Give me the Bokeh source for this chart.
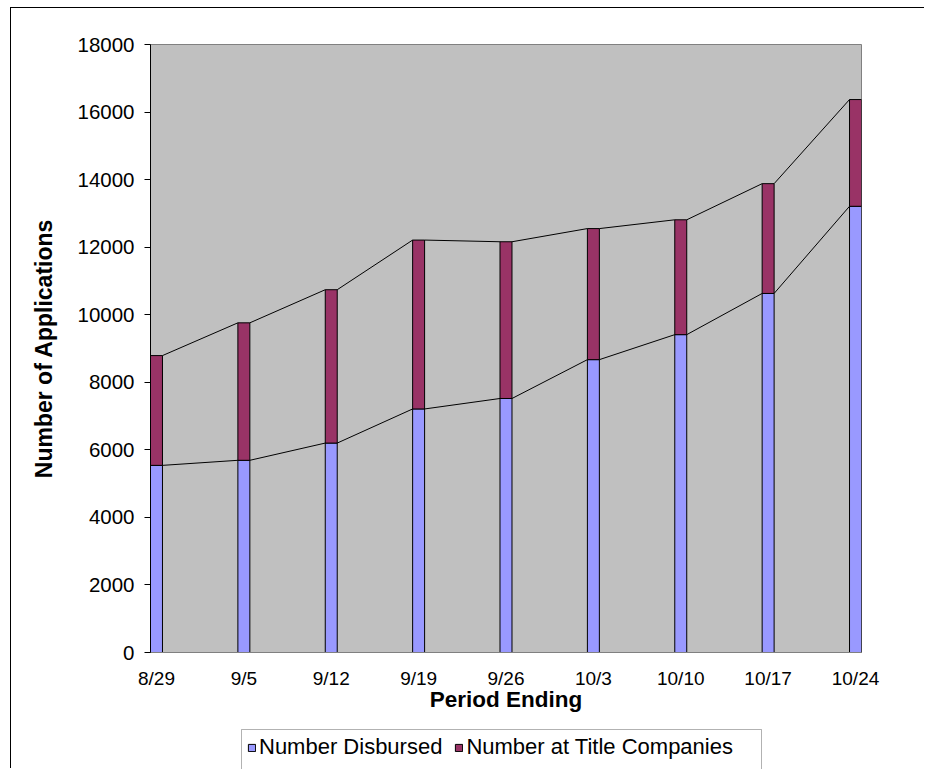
import numpy as np
from bokeh.plotting import figure
from bokeh.layouts import column
from bokeh.models import (Range1d, FixedTicker, Legend, LegendItem,
                          BoxAnnotation, ColumnDataSource)
from bokeh.embed import file_html
from bokeh.resources import INLINE

# Weekly application counts
periods = ["8/29", "9/5", "9/12", "9/19", "9/26", "10/3", "10/10", "10/17", "10/24"]
disbursed = [5540, 5690, 6200, 7210, 7520, 8670, 9410, 10630, 13210]
at_title = [3250, 4070, 4540, 5000, 4640, 3880, 3400, 3250, 3160]
y_ticks = [0, 2000, 4000, 6000, 8000, 10000, 12000, 14000, 16000, 18000]

FONT = "Liberation Sans"
BAR_W = 0.137
DISB_COLOR = "#9999FF"
TITLE_COLOR = "#993366"

x = np.arange(len(periods))
total = [d + t for d, t in zip(disbursed, at_title)]

src = ColumnDataSource(dict(x=x, disbursed=disbursed, total=total))

# ---- main chart -------------------------------------------------------------
p = figure(width=914, height=706, output_backend="svg", toolbar_location=None,
           x_range=Range1d(-BAR_W / 2, len(periods) - 1 + BAR_W / 2),
           y_range=Range1d(0, 18000),
           min_border_left=139, min_border_right=64,
           min_border_top=36, min_border_bottom=62)

p.background_fill_color = "#C0C0C0"
p.border_fill_color = "white"
p.outline_line_color = "#808080"
p.xgrid.visible = False
p.ygrid.visible = False

# stacked columns
p.vbar(x="x", top="disbursed", bottom=0, width=BAR_W, source=src,
       fill_color=DISB_COLOR, line_color="black", line_width=1)
p.vbar(x="x", top="total", bottom="disbursed", width=BAR_W, source=src,
       fill_color=TITLE_COLOR, line_color="black", line_width=1)

# series lines joining the tops of neighbouring columns
x0 = x[:-1] + BAR_W / 2
x1 = x[1:] - BAR_W / 2
for series in (disbursed, total):
    p.segment(x0=x0, y0=series[:-1], x1=x1, y1=series[1:],
              line_color="black", line_width=1)

# axes
p.yaxis.ticker = FixedTicker(ticks=y_ticks)
p.yaxis.minor_tick_line_color = None
p.yaxis.major_tick_in = 0
p.yaxis.major_tick_out = 6
p.yaxis.major_label_standoff = 10
p.yaxis.axis_line_color = "black"
p.yaxis.major_label_text_font = FONT
p.yaxis.major_label_text_font_size = "20.5px"
p.yaxis.major_label_text_color = "black"
p.yaxis.axis_label = "Number of Applications"
p.yaxis.axis_label_text_font = FONT
p.yaxis.axis_label_text_font_size = "23px"
p.yaxis.axis_label_text_font_style = "bold"
p.yaxis.axis_label_text_color = "black"
p.yaxis.axis_label_standoff = 17

p.xaxis.ticker = FixedTicker(ticks=list(x))
p.xaxis.major_label_overrides = {int(i): lab for i, lab in zip(x, periods)}
p.xaxis.minor_tick_line_color = None
p.xaxis.major_tick_in = 0
p.xaxis.major_tick_out = 0
p.xaxis.major_label_standoff = 15
p.xaxis.axis_line_color = "#808080"
p.xaxis.major_label_text_font = FONT
p.xaxis.major_label_text_font_size = "19px"
p.xaxis.major_label_text_color = "black"
p.xaxis.axis_label = "Period Ending"
p.xaxis.axis_label_text_font = FONT
p.xaxis.axis_label_text_font_size = "22.5px"
p.xaxis.axis_label_text_font_style = "bold"
p.xaxis.axis_label_text_color = "black"
p.xaxis.axis_label_standoff = -5

# ---- legend strip (its frame lines up with the chart frame) -----------------
leg = figure(width=914, height=55, output_backend="svg", toolbar_location=None,
             x_range=Range1d(0, 1), y_range=Range1d(0, 1),
             x_axis_location=None, y_axis_location=None,
             min_border=0)
leg.outline_line_color = None
leg.background_fill_color = "white"
leg.border_fill_color = "white"
leg.xgrid.visible = False
leg.ygrid.visible = False

# the same two series, hidden here; they only supply the legend swatches
sw_disb = leg.vbar(x="x", top="disbursed", bottom=0, width=BAR_W, source=src,
                   fill_color=DISB_COLOR, line_color="black", line_width=1,
                   visible=False)
sw_title = leg.vbar(x="x", top="total", bottom="disbursed", width=BAR_W, source=src,
                    fill_color=TITLE_COLOR, line_color="black", line_width=1,
                    visible=False)

# legend frame, running past the bottom edge
leg.add_layout(BoxAnnotation(left=91, right=611, top=40, bottom=-20,
                             left_units="screen", right_units="screen",
                             top_units="screen", bottom_units="screen",
                             fill_alpha=0, line_color="black", line_width=1))

legend = Legend(items=[LegendItem(label="Number Disbursed", renderers=[sw_disb]),
                       LegendItem(label="Number at Title Companies", renderers=[sw_title])],
                location=(90, 2), orientation="horizontal",
                padding=7, margin=0, spacing=12, label_standoff=3,
                glyph_width=9, glyph_height=9,
                label_text_font=FONT, label_text_font_size="22px",
                label_text_color="black",
                inactive_fill_alpha=0,
                border_line_alpha=0, background_fill_alpha=0)
leg.add_layout(legend, "center")

chart = column(p, leg, spacing=0)
chart.margin = (8, 0, 0, 11)
chart.styles = {"box-shadow": "-1px -1px 0 0 #000000"}

open("out.html", "w").write(file_html(chart, INLINE))
